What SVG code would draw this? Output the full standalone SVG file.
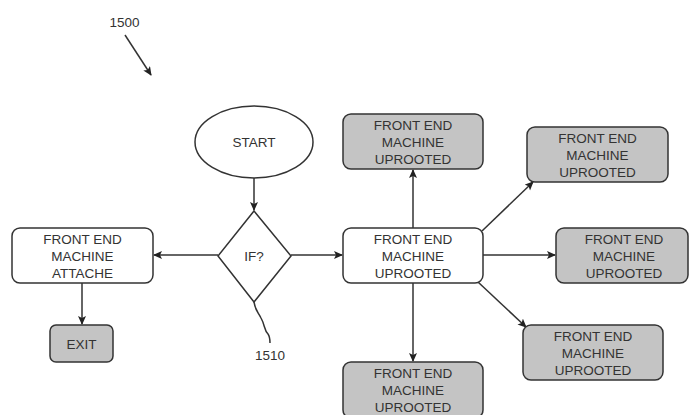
<svg xmlns="http://www.w3.org/2000/svg" width="689" height="415" viewBox="0 0 689 415">
<style>
text{font-family:"Liberation Sans",Arial,sans-serif;font-size:13.5px;fill:#333;text-anchor:middle}
.box{fill:#fff;stroke:#333;stroke-width:1.5}
.gray{fill:#c4c4c4;stroke:#333;stroke-width:1.5}
.conn line,.conn path{stroke:#333;stroke-width:1.5;fill:none}
</style>
<defs>
<marker id="ah" markerWidth="10" markerHeight="10" refX="8" refY="4" orient="auto" markerUnits="userSpaceOnUse">
<path d="M0,0 L9,4 L0,8 L2,4 Z" fill="#222"/>
</marker>
</defs>
<rect width="689" height="415" fill="#fff"/>
<g id="label1500">
<text x="124.5" y="27">1500</text>
</g>
<g class="conn" id="connectors">
<line x1="125" y1="35" x2="151" y2="75" marker-end="url(#ah)"/>
<line x1="254" y1="178" x2="254" y2="210" marker-end="url(#ah)"/>
<line x1="218" y1="255" x2="154" y2="255" marker-end="url(#ah)"/>
<line x1="82" y1="283" x2="82" y2="324" marker-end="url(#ah)"/>
<line x1="291" y1="255" x2="342" y2="255" marker-end="url(#ah)"/>
<line x1="413" y1="228" x2="413" y2="170" marker-end="url(#ah)"/>
<line x1="482" y1="231" x2="533" y2="182" marker-end="url(#ah)"/>
<line x1="483" y1="255" x2="555" y2="255" marker-end="url(#ah)"/>
<line x1="478" y1="282" x2="526" y2="327" marker-end="url(#ah)"/>
<line x1="413" y1="283" x2="413" y2="361" marker-end="url(#ah)"/>
<path d="M254,302 C255,310 258,312 261,318 C265,325 264,330 268,334 C270,337 270,340 270,343"/>
</g>
<g id="start">
<ellipse cx="254" cy="142" rx="59" ry="36" class="box"/>
<text x="254" y="147">START</text>
</g>
<g id="if">
<path d="M254,211 L291,256 L254,302 L218,256 Z" class="box"/>
<text x="254" y="261">IF?</text>
</g>
<g id="label1510">
<text x="270" y="360">1510</text>
</g>
<g id="attache">
<rect x="12" y="228" width="141" height="55" rx="8" class="box"/>
<text x="82.5" y="244">FRONT END</text>
<text x="82.5" y="261">MACHINE</text>
<text x="82.5" y="278">ATTACHE</text>
</g>
<g id="exit">
<rect x="50" y="325" width="63" height="37" rx="6" class="gray"/>
<text x="81.5" y="349">EXIT</text>
</g>
<g id="center">
<rect x="343" y="228" width="140" height="55" rx="8" class="box"/>
<text x="413" y="244">FRONT END</text>
<text x="413" y="261">MACHINE</text>
<text x="413" y="278">UPROOTED</text>
</g>
<g id="top">
<rect x="343" y="114" width="140" height="55" rx="8" class="gray"/>
<text x="413" y="130">FRONT END</text>
<text x="413" y="147">MACHINE</text>
<text x="413" y="164">UPROOTED</text>
</g>
<g id="topright">
<rect x="527" y="127" width="141" height="55" rx="8" class="gray"/>
<text x="597.5" y="143">FRONT END</text>
<text x="597.5" y="160">MACHINE</text>
<text x="597.5" y="177">UPROOTED</text>
</g>
<g id="right">
<rect x="556" y="228" width="132" height="55" rx="8" class="gray"/>
<text x="624" y="244">FRONT END</text>
<text x="624" y="261">MACHINE</text>
<text x="624" y="278">UPROOTED</text>
</g>
<g id="bottomright">
<rect x="523" y="325" width="140" height="55" rx="8" class="gray"/>
<text x="593" y="341">FRONT END</text>
<text x="593" y="358">MACHINE</text>
<text x="593" y="375">UPROOTED</text>
</g>
<g id="bottom">
<rect x="343" y="362" width="140" height="56" rx="8" class="gray"/>
<text x="413" y="378">FRONT END</text>
<text x="413" y="395">MACHINE</text>
<text x="413" y="412">UPROOTED</text>
</g>
</svg>
